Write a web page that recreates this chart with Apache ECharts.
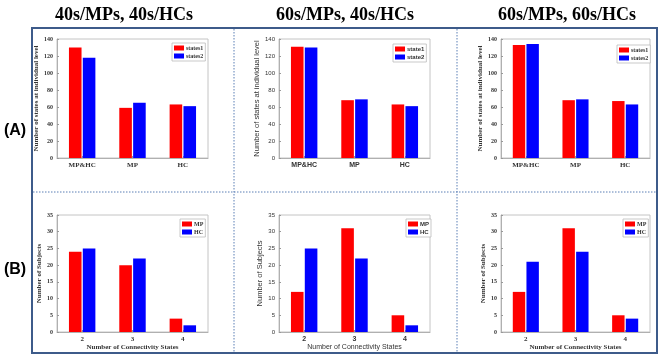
<!DOCTYPE html>
<html>
<head>
<meta charset="utf-8">
<script src="https://cdn.jsdelivr.net/npm/echarts@6/dist/echarts.min.js"></script>
<style>
  html, body { margin: 0; padding: 0; background: #fff; }
  #chart { width: 661px; height: 360px; }
</style>
</head>
<body>
<div id="chart"></div>
<script>
// column titles and row labels
const colTitles = ["40s/MPs, 40s/HCs", "60s/MPs, 40s/HCs", "60s/MPs, 60s/HCs"];
const rowLabels = ["(A)", "(B)"];

// row A: states at individual level
const topCats = ["MP&HC", "MP", "HC"];
const topNames = [["states1", "states2"], ["state1", "state2"], ["states1", "states2"]];
const topYName = "Number of states at individual level";
const topTicks = { min: 0, max: 140, interval: 20 };
const p1States1 = [130, 59, 63];
const p1States2 = [118, 65, 61];
const p2States1 = [131, 68, 63];
const p2States2 = [130, 69, 61];
const p3States1 = [133, 68, 67];
const p3States2 = [134, 69, 63];

// row B: number of subjects per number of connectivity states
const botCats = ["2", "3", "4"];
const botNames = ["MP", "HC"];
const botYName = "Number of Subjects";
const botXName = "Number of Connectivity States";
const botTicks = { min: 0, max: 35, interval: 5 };
const p1MP = [24, 20, 4];
const p1HC = [25, 22, 2];
const p2MP = [12, 31, 5];
const p2HC = [25, 22, 2];
const p3MP = [12, 31, 5];
const p3HC = [21, 24, 4];

const topData = [[p1States1, p1States2], [p2States1, p2States2], [p3States1, p3States2]];
const botData = [[p1MP, p1HC], [p2MP, p2HC], [p3MP, p3HC]];

const RED = "#ff0000", BLUE = "#0000ff";
const SERIF = "Liberation Serif", SANS = "Liberation Sans";

// panel geometry (px)
const colLeft = [57, 279, 501];
const colWidth = [151, 151, 149];
const rowTop = [39, 215];
const rowHeight = [119, 117];
const yNameGap = [[15, 16, 16], [11, 11, 13]];
const legendPos = [
  [[172, 43], [393, 44], [617, 45]],
  [[180, 219], [406, 219], [623, 219]],
];

const chart = echarts.init(document.getElementById("chart"));

const grids = [], xAxes = [], yAxes = [], series = [], legends = [];
let gi = 0;
for (let r = 0; r < 2; r++) {
  for (let c = 0; c < 3; c++) {
    const sans = c === 1;
    const font = sans ? SANS : SERIF;
    const lblWeight = sans ? "normal" : "bold";
    grids.push({
      left: colLeft[c], top: rowTop[r], width: colWidth[c], height: rowHeight[r],
      show: true, borderColor: "#c4c4c4", borderWidth: 1, backgroundColor: "#fff",
    });
    xAxes.push({
      type: "category", gridIndex: gi, data: r === 0 ? topCats : botCats,
      axisLine: { show: true, lineStyle: { color: "#b0b0b0" } },
      axisTick: { show: true, inside: true, length: 2, alignWithLabel: true, lineStyle: { color: "#999" } },
      axisLabel: { fontFamily: font, fontWeight: "bold", fontSize: 7, color: "#333", margin: 4 },
      name: r === 1 ? botXName : "", nameLocation: "middle", nameGap: 11,
      nameTextStyle: { fontFamily: font, fontWeight: sans ? "normal" : "bold", fontSize: 7, color: "#333" },
    });
    const t = r === 0 ? topTicks : botTicks;
    yAxes.push({
      type: "value", gridIndex: gi, min: t.min, max: t.max, interval: t.interval,
      axisLine: { show: true, lineStyle: { color: "#b0b0b0" } },
      axisTick: { show: true, inside: true, length: 2, lineStyle: { color: "#999" } },
      splitLine: { show: false },
      axisLabel: { fontFamily: font, fontWeight: lblWeight, fontSize: 6, color: "#333", margin: 4 },
      name: r === 0 ? topYName : botYName, nameLocation: "middle", nameGap: yNameGap[r][c],
      nameTextStyle: { fontFamily: font, fontWeight: sans ? "normal" : "bold", fontSize: sans ? 7.5 : 7, color: "#333" },
    });
    const names = r === 0 ? topNames[c] : botNames;
    const vals = r === 0 ? topData[c] : botData[c];
    [RED, BLUE].forEach((col, k) => {
      series.push({
        type: "bar", name: names[k], xAxisIndex: gi, yAxisIndex: gi,
        data: vals[k], barWidth: "25%", barGap: "10%",
        itemStyle: { color: col }, emphasis: { disabled: true },
      });
    });
    legends.push({
      left: legendPos[r][c][0], top: legendPos[r][c][1], orient: "vertical",
      data: names, itemWidth: 10, itemHeight: 5, itemGap: 2, padding: [2, 2],
      icon: "rect", backgroundColor: "#fff", borderColor: "#bbb", borderWidth: 0.8,
      textStyle: { fontFamily: font, fontWeight: "bold", fontSize: 6, color: "#333", padding: [0, 0, 0, -3] },
      selectedMode: false,
    });
    gi++;
  }
}

const titleCenters = [124, 345, 567];
const graphic = [
  { type: "rect", shape: { x: 32, y: 28, width: 625, height: 325 }, style: { fill: null, stroke: "#3d5b8a", lineWidth: 2 }, z: 10 },
  { type: "line", shape: { x1: 234, y1: 29, x2: 234, y2: 352 }, style: { stroke: "#5b7fb5", lineWidth: 1, lineDash: [1.5, 1.5] }, z: 10 },
  { type: "line", shape: { x1: 457, y1: 29, x2: 457, y2: 352 }, style: { stroke: "#5b7fb5", lineWidth: 1, lineDash: [1.5, 1.5] }, z: 10 },
  { type: "line", shape: { x1: 33, y1: 192, x2: 656, y2: 192 }, style: { stroke: "#5b7fb5", lineWidth: 1, lineDash: [1.5, 1.5] }, z: 10 },
];
colTitles.forEach((t, i) => graphic.push({
  type: "text", x: titleCenters[i], y: 15,
  style: { text: t, fontFamily: SERIF, fontWeight: "bold", fontSize: 18, fill: "#000", align: "center", verticalAlign: "middle" },
}));
[131, 270].forEach((y, i) => graphic.push({
  type: "text", x: 15, y: y,
  style: { text: rowLabels[i], fontFamily: SANS, fontWeight: "bold", fontSize: 16, fill: "#000", align: "center", verticalAlign: "middle" },
}));

chart.setOption({
  animation: false,
  backgroundColor: "#fff",
  grid: grids, xAxis: xAxes, yAxis: yAxes, series: series, legend: legends,
  graphic: graphic,
});
</script>
</body>
</html>
